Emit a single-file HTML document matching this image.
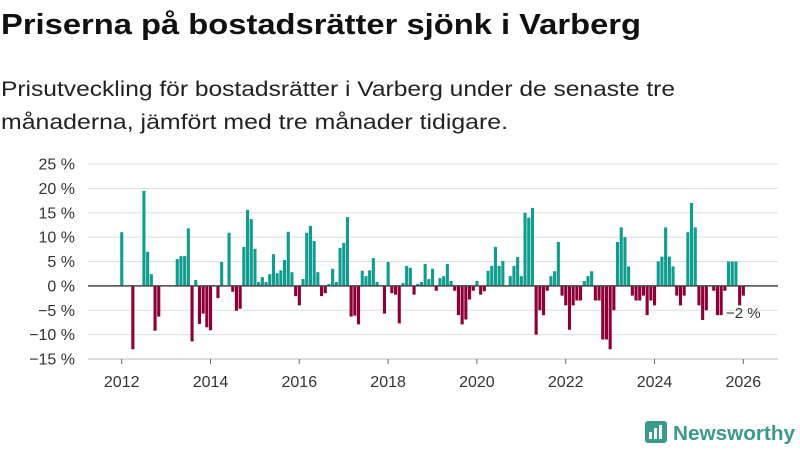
<!DOCTYPE html>
<html><head><meta charset="utf-8"><style>
html,body{margin:0;padding:0;background:#fff;width:800px;height:450px;overflow:hidden}
svg{display:block;font-family:"Liberation Sans",sans-serif}
</style></head><body>
<svg id="chart" width="800" height="450" viewBox="0 0 800 450" xmlns="http://www.w3.org/2000/svg">
<text x="1" y="34" font-size="29" font-weight="bold" fill="#111" textLength="640" lengthAdjust="spacingAndGlyphs">Priserna på bostadsrätter sjönk i Varberg</text>
<text x="1" y="96" font-size="21" fill="#222" textLength="674" lengthAdjust="spacingAndGlyphs">Prisutveckling för bostadsrätter i Varberg under de senaste tre</text>
<text x="1" y="129" font-size="21" fill="#222" textLength="507" lengthAdjust="spacingAndGlyphs">månaderna, jämfört med tre månader tidigare.</text>
<g id="grid"></g>
<g id="bars"></g>
<g id="axes"></g>
<text x="726" y="318" font-size="15" fill="#333">−2 %</text>
<g>
<rect x="645" y="421" width="22" height="22" rx="3" fill="#3a9a8c"/>
<rect x="649" y="432" width="3" height="7" fill="#fff"/>
<rect x="654" y="428" width="3" height="11" fill="#fff"/>
<rect x="659" y="425" width="3" height="14" fill="#fff"/>
<text x="673" y="440" font-size="20" font-weight="bold" fill="#3a9a8c" textLength="122" lengthAdjust="spacingAndGlyphs">Newsworthy</text>
</g>
</svg>
<script>
const yTicks=[25,20,15,10,5,0,-5,-10,-15];
const xTickYears=[2012,2014,2016,2018,2020,2022,2024,2026];
const startYear=2012;
const values=[11,0,0,-13,0,0,19.5,7,2.4,-9.2,-6.3,0,
0,0,0,5.5,6.1,6.1,11.8,-11.4,1.2,-7.8,-5.7,-8.5,
-9.1,0,-2.5,4.9,0,10.9,-1.2,-5.1,-4.7,8,15.6,13.7,
7.6,0.8,1.8,0.8,2.4,6.5,2.6,3.2,5.3,11.1,2.8,-2.1,
-4,1.4,10.9,12.3,9.2,2.8,-2.1,-1.5,0.4,3.5,0.8,7.8,
8.8,14.1,-6.3,-6.1,-7.9,3.1,2,3.2,5.7,0.8,0,-5.7,
4.9,-1.5,-1.8,-7.7,0.6,4.1,3.7,-1.8,0.4,0.8,4.5,1.4,
3.5,-1,1.6,2,4.5,1,-1,-6,-7.9,-6.9,-2.8,-1,
1,-1.8,-1.1,3.1,4.1,8,4.1,5.1,0,2,4.1,5.9,
2,15,14,16,-10,-5,-6,-1,2,3,9,-2,
-4,-9,-4,-3,-3,1,2,3,-3,-3,-11,-11,
-13,-5,9,12,10,4,-2,-3,-3,-2,-6,-3,
-4,5,6,12,6,4,-2,-4,-2,11,17,12,
-4,-7,-5,0,-1,-6,-6,-1,5,5,5,-4,
-2];
const NS="http://www.w3.org/2000/svg";
const y0=164,y1=359,vMax=25,vMin=-15;
function yScale(v){return y0+(vMax-v)/(vMax-vMin)*(y1-y0);}
const x2012=121.7,pxPerMonth=3.7;
function xScale(monthIdx){return x2012+monthIdx*pxPerMonth;}
function mk(tag,attrs,parent){const e=document.createElementNS(NS,tag);for(const k in attrs)e.setAttribute(k,attrs[k]);parent.appendChild(e);return e;}
const grid=document.getElementById('grid'),bars=document.getElementById('bars'),axes=document.getElementById('axes');
yTicks.forEach(t=>{
  const y=yScale(t);
  if(t!==0){const l=mk('line',{x1:88,x2:778,y1:y,y2:y,stroke:t===-15?'#bbb':'#ddd','stroke-width':1},grid);
  
  }
  const tx=mk('text',{x:75,y:y+5.5,'font-size':16,'text-anchor':'end',fill:'#333'},axes);
  tx.textContent=(t<0?'−'+(-t):t)+' %';
  
  
});
values.forEach((v,i)=>{
  if(v===0)return;
  const x=xScale(i)-1.5,ya=yScale(Math.max(v,0)),yb=yScale(Math.min(v,0));
  const r=mk('rect',{x:x,y:ya,width:3.1,height:Math.max(yb-ya,0.5),fill:v>0?'#0f9d8f':'#8c0037'},bars);
  
  
});
const zl=mk('line',{x1:88,x2:778,y1:yScale(0),y2:yScale(0),stroke:'#444','stroke-width':1.5},axes);


xTickYears.forEach(yr=>{
  const x=xScale((yr-startYear)*12);
  const tk=mk('line',{x1:x,x2:x,y1:y1,y2:y1+5,stroke:'#666','stroke-width':1},axes);
  
  
  const tx=mk('text',{x:x,y:387,'font-size':16,'text-anchor':'middle',fill:'#333'},axes);
  tx.textContent=yr;
  
  
});
</script>
</body></html>
